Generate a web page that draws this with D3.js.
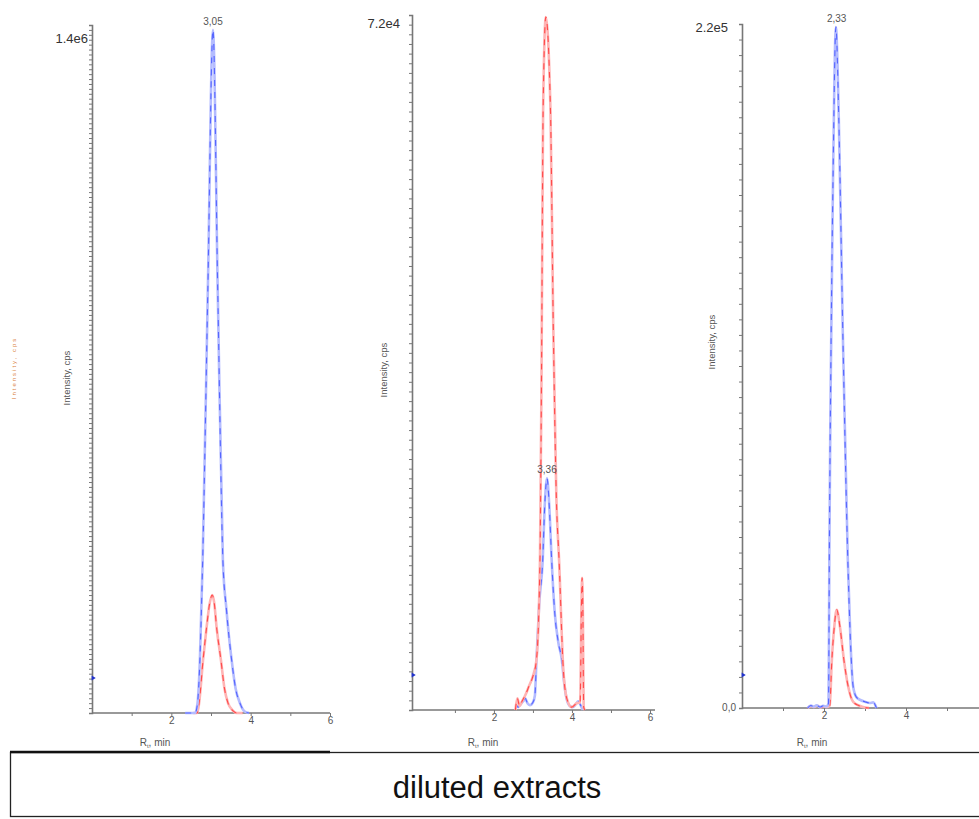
<!DOCTYPE html>
<html>
<head>
<meta charset="utf-8">
<script src="https://cdn.jsdelivr.net/npm/d3@7"></script>
<style>
  html, body { margin: 0; padding: 0; background: #fff; }
  svg { display: block; font-family: "Liberation Sans", Arial, sans-serif; }
</style>
</head>
<body>
<svg id="chart" width="979" height="819"></svg>
<script>
// ---------- DATA ----------
const panelNames = ["A", "B", "C"];
const yMaxLabels = ["1.4e6", "7.2e4", "2.2e5"];
const yMaxValues = [1.4e6, 7.2e4, 2.2e5];
const yTickSteps = [1e4, 1e3, 5e3];
const xTickValues = [[1, 2, 3, 4, 5, 6], [1, 2, 3, 4, 5, 6], [1, 2, 3, 4, 5]];
const xTickLabels = [["", "2", "", "4", "", "6"], ["", "2", "", "4", "", "6"], ["", "2", "", "4", ""]];
const peakLabels = ["3,05", "3,36", "2,33"];
const peakTimes = [3.05, 3.36, 2.31];
const peakValues = [1.39e6, 2.4e4, 2.19e5];
const yAxisTitle = "Intensity, cps";
const footerText = "diluted extracts";

// blue traces [time (min), intensity (cps)]
const blueA = [[2.35,0],[2.6,0],[2.66,2e4],[2.72,1.08e5],[2.79,3.1e5],[2.92,8.6e5],[3.05,1.39e6],[3.17,8.6e5],[3.30,3.1e5],[3.39,2.1e5],[3.52,1.08e5],[3.62,5e4],[3.73,2e4],[3.85,3e3],[3.96,0]];
const redA  = [[2.55,0],[2.65,0],[2.70,2e4],[2.80,1.08e5],[2.89,1.75e5],[2.96,2.2e5],[3.03,2.4e5],[3.08,2.25e5],[3.14,1.75e5],[3.25,1.08e5],[3.34,5e4],[3.43,2e4],[3.55,5e3],[3.65,0],[3.8,0]];

const blueB = [[2.58,500],[2.62,300],[2.68,600],[2.75,900],[2.8,1200],[2.86,700],[2.92,500],[3.0,800],[3.05,1500],[3.09,5200],[3.16,1.1e4],[3.25,1.55e4],[3.30,2.1e4],[3.36,2.4e4],[3.42,2.1e4],[3.48,1.55e4],[3.56,1e4],[3.65,7e3],[3.74,5200],[3.8,2800],[3.86,1200],[3.95,400],[4.02,300],[4.1,600],[4.16,900],[4.22,500],[4.28,0]];
const redB  = [[2.55,0],[2.6,1200],[2.66,400],[2.72,900],[2.8,1500],[2.9,2500],[3.0,3500],[3.09,5200],[3.18,1.55e4],[3.22,3.5e4],[3.26,6.2e4],[3.33,7.18e4],[3.45,6.2e4],[3.52,4e4],[3.6,2.2e4],[3.67,1.55e4],[3.78,4100],[3.86,1300],[3.99,300],[4.12,700],[4.21,800],[4.24,1e4],[4.26,1.37e4],[4.28,1e4],[4.30,300],[4.33,0]];

const blueC = [[1.6,0],[1.68,800],[1.75,400],[1.82,900],[1.9,300],[1.98,700],[2.06,500],[2.11,1500],[2.12,2e4],[2.13,4.8e4],[2.16,1e5],[2.22,1.7e5],[2.29,2.19e5],[2.36,1.9e5],[2.46,1.2e5],[2.58,4.8e4],[2.65,2e4],[2.71,7e3],[2.79,3500],[2.9,2500],[3.0,2000],[3.12,1600],[3.2,1800],[3.28,0]];
const redC  = [[1.6,0],[1.68,600],[1.76,300],[1.84,700],[1.92,200],[2.0,500],[2.08,300],[2.14,800],[2.19,1.5e4],[2.25,2.6e4],[2.31,3.16e4],[2.39,2.6e4],[2.49,1.5e4],[2.59,6900],[2.71,2000],[2.85,800],[2.95,300],[3.1,0]];

const blueSeries = [blueA, blueB, blueC];
const redSeries = [redA, redB, redC];

// ---------- LAYOUT ----------
const layout = [
  { x0: 92,  x1: 330, xDom: [0, 6],    axisEnd: 330, yTop: 25, yBot: 713, labX: 88,  labY: 40, titleX: 67,  titleY: 378, rX: 155, markerY: 678 },
  { x0: 412, x1: 650, xDom: [-0.1, 6], axisEnd: 655, yTop: 15, yBot: 710, labX: 400, labY: 25, titleX: 384, titleY: 370, rX: 483, markerY: 675 },
  { x0: 742, x1: 988, xDom: [0, 6],    axisEnd: 979, yTop: 24, yBot: 708, labX: 728, labY: 29, titleX: 712, titleY: 342, rX: 812, markerY: 675 }
];

const svg = d3.select("#chart");

panelNames.forEach((name, i) => {
  const L = layout[i];
  const x = d3.scaleLinear().domain(L.xDom).range([L.x0, L.x1]);
  const y = d3.scaleLinear().domain([0, yMaxValues[i]]).range([L.yBot, L.yTop]);
  const g = svg.append("g").attr("class", "panel-" + name);

  // y axis ticks
  const yt = d3.range(0, yMaxValues[i] + yTickSteps[i] / 2, yTickSteps[i]);
  const yAxis = d3.axisLeft(y).tickValues(yt).tickSize(3).tickFormat("");
  const ya = g.append("g").attr("transform", `translate(${L.x0},0)`).call(yAxis);
  ya.select(".domain").attr("stroke", "#777").attr("stroke-width", 1.6);
  ya.selectAll(".tick line").attr("stroke", "#777").attr("stroke-width", 1);

  // x axis
  const xAxis = d3.axisBottom(x).tickValues(xTickValues[i]).tickSize(3)
    .tickFormat((d, k) => xTickLabels[i][k]);
  const xa = g.append("g").attr("transform", `translate(0,${L.yBot})`).call(xAxis);
  xa.select(".domain").remove();
  xa.append("line").attr("x1", L.x0).attr("x2", L.axisEnd).attr("y1", 0).attr("y2", 0)
    .attr("stroke", "#777").attr("stroke-width", 1.6);
  xa.selectAll(".tick line").attr("stroke", "#777");
  xa.selectAll(".tick text").attr("fill", "#555").attr("font-size", 10).attr("dy", "0.5em")
    .attr("font-family", "Liberation Sans, Arial, sans-serif");

  // y max label
  g.append("text").attr("x", L.labX).attr("y", L.labY).attr("text-anchor", "end")
    .attr("dominant-baseline", "middle").attr("font-size", 13).attr("fill", "#333")
    .text(yMaxLabels[i]);
  if (i === 2) {
    g.append("text").attr("x", L.labX + 8).attr("y", L.yBot).attr("text-anchor", "end")
      .attr("dominant-baseline", "middle").attr("font-size", 10).attr("fill", "#555")
      .text("0,0");
  }

  // y title
  g.append("text").attr("transform", `translate(${L.titleX},${L.titleY}) rotate(-90)`)
    .attr("text-anchor", "middle").attr("dominant-baseline", "middle")
    .attr("font-size", 9.5).attr("fill", "#555").text(yAxisTitle);

  // x title R_t, min
  const xt = g.append("text").attr("x", L.rX).attr("y", 746).attr("text-anchor", "middle")
    .attr("font-size", 10).attr("fill", "#555");
  xt.append("tspan").text("R");
  xt.append("tspan").attr("font-size", 6).attr("dy", 2).text("t");
  xt.append("tspan").attr("dy", -2).text(", min");

  // marker
  g.append("path").attr("d", d3.symbol().type(d3.symbolTriangle).size(10)())
    .attr("transform", `translate(${L.x0 + 1},${L.markerY}) rotate(90)`)
    .attr("fill", "#2233cc");

  // traces
  const line = d3.line().x(d => x(d[0])).y(d => y(d[1])).curve(d3.curveMonotoneX);
  const drawTrace = (data, light, dark) => {
    g.append("path").datum(data).attr("d", line).attr("fill", "none")
      .attr("stroke", light).attr("stroke-width", 2.6).attr("stroke-linejoin", "round");
    g.append("path").datum(data).attr("d", line).attr("fill", "none")
      .attr("stroke", dark).attr("stroke-width", 1.1).attr("stroke-dasharray", "6,6")
      .attr("stroke-linejoin", "round");
  };
  if (i === 1) {
    drawTrace(blueSeries[i], "#b4bcff", "#5565ff");
    drawTrace(redSeries[i], "#ffb4b4", "#ff4a4a");
  } else {
    drawTrace(redSeries[i], "#ffb4b4", "#ff4a4a");
    drawTrace(blueSeries[i], "#b4bcff", "#5565ff");
  }

  // peak label
  g.append("text").attr("x", x(peakTimes[i])).attr("y", y(peakValues[i]) - 5)
    .attr("text-anchor", "middle").attr("font-size", 10).attr("fill", "#555")
    .text(peakLabels[i]);
});

// faint orange artifact at left edge
svg.append("text").attr("transform", "translate(14,368) rotate(-90)")
  .attr("text-anchor", "middle").attr("dominant-baseline", "middle")
  .attr("font-size", 6).attr("fill", "#d98040").attr("letter-spacing", 2).text("Intensity, cps");

// footer box
svg.append("rect").attr("x", 10.5).attr("y", 752.5).attr("width", 975).attr("height", 64)
  .attr("fill", "#fff").attr("stroke", "#222").attr("stroke-width", 1.3);
svg.append("line").attr("x1", 10).attr("x2", 330).attr("y1", 752).attr("y2", 752)
  .attr("stroke", "#111").attr("stroke-width", 2.6);
svg.append("text").attr("x", 497).attr("y", 798).attr("text-anchor", "middle")
  .attr("font-size", 31).attr("fill", "#111").text(footerText);
</script>
</body>
</html>
